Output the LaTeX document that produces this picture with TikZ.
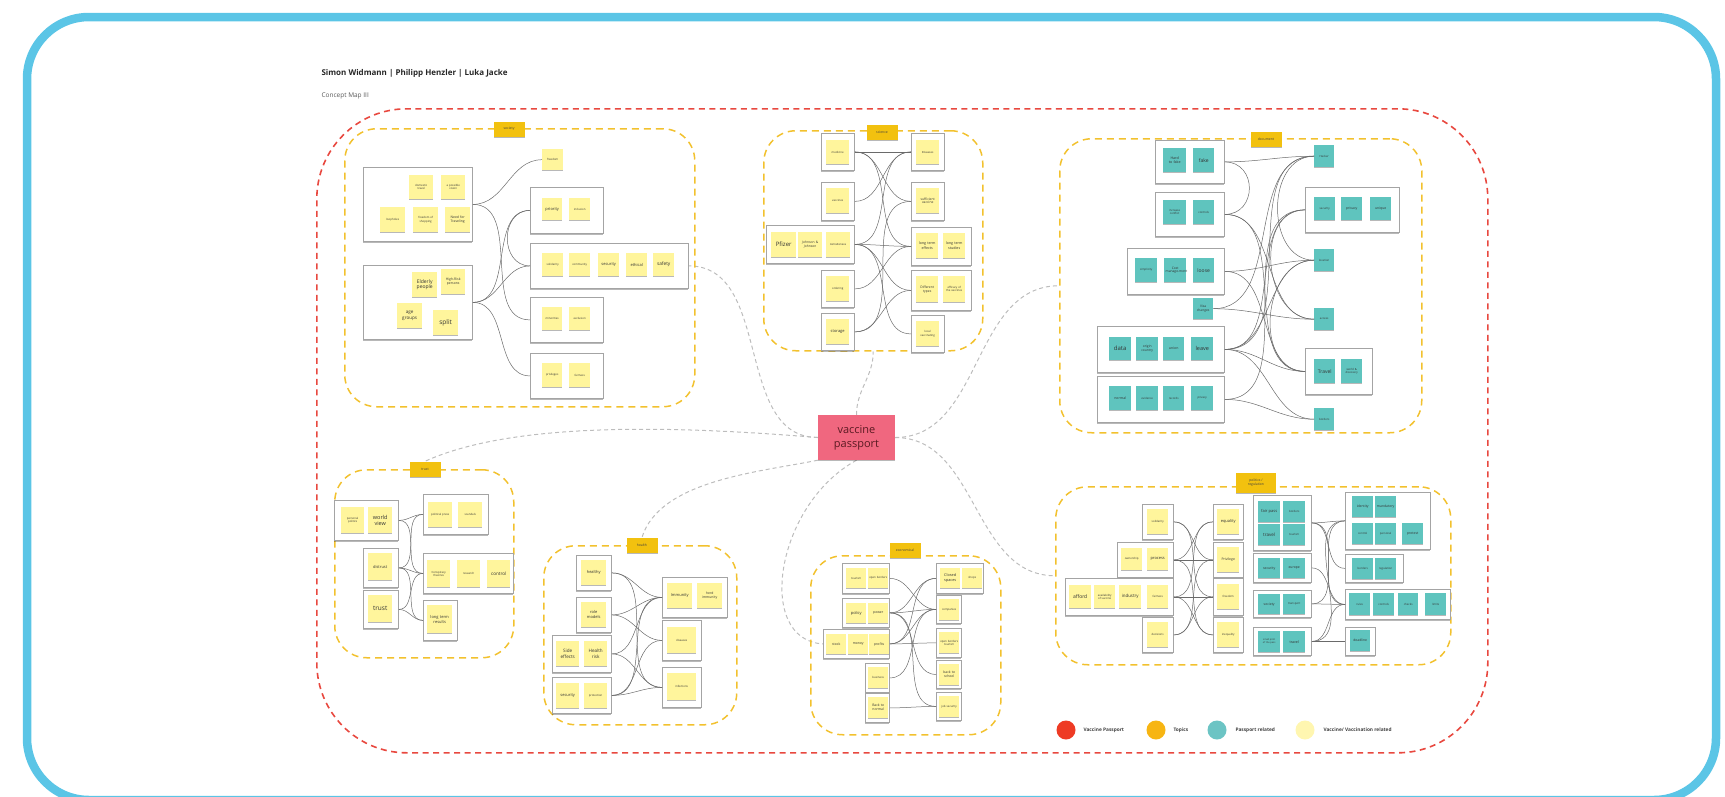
\documentclass[tikz,border=0pt]{standalone}
\usepackage{fontspec}
\setmainfont{Open Sans}
\usetikzlibrary{shadows}
\pgfdeclarelayer{bg}
\pgfsetlayers{bg,main}
\definecolor{frame}{HTML}{5BC5E6}
\definecolor{redline}{HTML}{E8483F}
\definecolor{topicY}{HTML}{F2C12E}
\definecolor{labelY}{HTML}{F2C10F}
\definecolor{noteY}{HTML}{FFF59C}
\definecolor{noteT}{HTML}{5FC4BE}
\definecolor{boxgray}{HTML}{A4A4A4}
\definecolor{linegray}{HTML}{6A6A6A}
\definecolor{hubgray}{HTML}{BDBDBD}
\definecolor{vppink}{HTML}{F0677F}
\definecolor{vptext}{HTML}{5B1A22}
\definecolor{lgred}{HTML}{EE3B24}
\definecolor{lgorange}{HTML}{F7B512}
\definecolor{lgteal}{HTML}{6CC4C4}
\definecolor{lgcream}{HTML}{FFF6B0}
\tikzset{
  shd/.style={drop shadow={shadow xshift=0pt,shadow yshift=-1.2pt,opacity=0.28,fill=black}},
  yn/.style={fill=noteY,draw=none,inner sep=0.5pt,align=center,text width=19pt,
    font=\fontsize{2.8}{3.4}\selectfont,text=black!80,shd},
  tn/.style={yn,fill=noteT},
  big/.style={font=\fontsize{5}{5.8}\selectfont},
  mid/.style={font=\fontsize{4}{4.6}\selectfont},
  bx/.style={draw=boxgray,line width=0.8pt,fill=white,inner sep=0pt,shd},
  tp/.style={draw=topicY,line width=1.5pt,dash pattern=on 7pt off 5pt,rounded corners=32pt,inner sep=0pt},
  tl/.style={fill=labelY,inner sep=0.5pt,align=center,font=\fontsize{3.4}{3.9}\selectfont,text=black!75,
    minimum width=31pt,minimum height=15pt,shd},
  cn/.style={draw=linegray,line width=0.5pt},
  hub/.style={draw=hubgray,line width=1pt,dash pattern=on 4pt off 3pt},
  lgt/.style={anchor=west,font=\fontsize{4.8}{5.5}\bfseries\selectfont,text=black!75},
}
\newcommand\bx[5]{\node[bx,anchor=north west,minimum width={#4-#2},minimum height={#5-#3}] (#1) at (#2,#3) {};}
\newcommand\nt[7]{\node[#2,anchor=north west,minimum width={#5-#3},minimum height={#6-#4}] (#1) at (#3,#4) {#7};}
\newcommand\tp[5]{\node[tp,anchor=north west,minimum width={#4-#2},minimum height={#5-#3}] (#1) at (#2,#3) {};}
\newcommand\cc[2]{\draw[cn] (#1.east) to[out=0,in=180] (#2.west);}
\begin{document}
\hyphenpenalty=10000
\exhyphenpenalty=10000
\begin{tikzpicture}[x=1pt,y=-1pt]
\useasboundingbox (0,0) rectangle (1725,796);
% blue frame
\draw[frame,line width=8.5pt,rounded corners=62pt] (27,17) rectangle (1716,800);
% header
\node[anchor=west,font=\fontsize{8}{9.6}\bfseries\selectfont,text=black!85] (hdr) at (318,73) {Simon Widmann | Philipp Henzler | Luka Jacke};
\node[anchor=west,font=\fontsize{6.5}{8}\selectfont,text=black!65] (sub) at (318,96) {Concept Map III};
% outer red frame
\node[draw=redline,line width=1.6pt,dash pattern=on 6pt off 4.5pt,rounded corners=90pt,anchor=north west,
  minimum width=1171,minimum height=644,inner sep=0pt] (outer) at (316,108) {};
% topic containers
\tp{Csoc}{344}{128}{694}{406}
\tp{Csci}{763}{130}{982}{350}
\tp{Cdoc}{1059}{138}{1421}{432}
\tp{Ctru}{334}{469}{513}{657}
\tp{Chea}{543}{545}{736}{724}
\tp{Ceco}{810}{555}{1000}{734}
\tp{Cpol}{1055}{486}{1450}{664}
% topic labels
\node[tl] (Lsoc) at (509,129) {society};
\node[tl] (Lsci) at (882,132) {science};
\node[tl] (Ldoc) at (1266,139) {document};
\node[tl] (Ltru) at (425,469) {trust};
\node[tl] (Lhea) at (642,545) {health};
\node[tl] (Leco) at (905,550) {economical};
\node[tl,minimum width=40pt,minimum height=20pt] (Lpol) at (1256,483) {politics /\\regulation};
% ---------------- society
\bx{sA}{363}{167}{472}{241}
\nt{s1}{yn}{409}{175}{433}{199}{domestic travel}
\nt{s2}{yn}{441}{175}{465}{199}{a possible vision}
\nt{s3}{yn}{380}{207}{405}{232}{loopholes}
\nt{s4}{yn}{413}{207}{438}{232}{freedom of shopping}
\nt{s5}{yn,font=\fontsize{3.4}{4}\selectfont}{445}{207}{470}{232}{Need for Traveling}
\bx{sB}{363}{265}{472}{339}
\nt{s6}{yn,big}{412}{272}{437}{297}{Elderly people}
\nt{s7}{yn,font=\fontsize{3.4}{4}\selectfont}{441}{269}{465}{294}{High-Risk persons}
\nt{s8}{yn,font=\fontsize{4.6}{5.2}\selectfont}{397}{303}{422}{328}{age groups}
\nt{s9}{yn,font=\fontsize{6.5}{7}\selectfont}{433}{310}{458}{335}{split}
\nt{fr}{yn}{542}{149}{563}{170}{freedom}
\bx{sC}{530}{187}{603}{233}
\nt{s10}{yn,mid}{542}{198}{562}{220}{priority}
\nt{s11}{yn}{569}{198}{590}{220}{inclusion}
\bx{sD}{530}{243}{688}{288}
\nt{s12}{yn}{542}{253}{563}{276}{solidarity}
\nt{s13}{yn}{569}{253}{590}{276}{community}
\nt{s14}{yn,mid}{598}{253}{619}{276}{security}
\nt{s15}{yn,mid}{626}{253}{647}{276}{ethical}
\nt{s16}{yn,font=\fontsize{4.8}{5.4}\selectfont}{653}{253}{674}{276}{safety}
\bx{sE}{530}{297}{603}{342}
\nt{s17}{yn}{542}{307}{562}{330}{minorities}
\nt{s18}{yn}{569}{307}{590}{330}{exclusion}
\bx{sF}{530}{353}{603}{398}
\nt{s19}{yn}{542}{363}{562}{387}{privileges}
\nt{s20}{yn}{569}{363}{590}{387}{fairness}
\cc{sA}{fr}
\cc{sA}{sE}
\cc{sB}{sC}
\cc{sB}{sD}
\cc{sB}{sF}
\draw[cn] (sC.west) to[out=180,in=180,looseness=1.4] (sD.west);
% ---------------- science
\bx{L1}{821}{133}{854}{170}
\nt{c1}{yn}{826}{140}{849}{164}{medicine}
\bx{L2}{821}{182}{854}{220}
\nt{c2}{yn}{826}{188}{849}{213}{vaccines}
\bx{L3}{766}{225}{854}{263}
\nt{c3}{yn,font=\fontsize{6}{6.5}\selectfont}{771}{232}{796}{257}{Pfizer}
\nt{c4}{yn,font=\fontsize{3.3}{3.9}\selectfont}{798}{232}{822}{257}{Johnson \& Johnson}
\nt{c5}{yn}{826}{232}{850}{257}{AstraZeneca}
\bx{L4}{821}{270}{854}{307}
\nt{c6}{yn}{826}{276}{849}{301}{ordering}
\bx{L5}{821}{313}{854}{350}
\nt{c7}{yn,mid}{826}{319}{849}{344}{storage}
\bx{R1}{911}{133}{944}{170}
\nt{c8}{yn}{916}{140}{939}{164}{Diseases}
\bx{R2}{911}{182}{944}{220}
\nt{c9}{yn,font=\fontsize{3.3}{3.9}\selectfont}{916}{188}{939}{213}{sufficient vaccine}
\bx{R3}{911}{227}{971}{265}
\nt{c10}{yn,font=\fontsize{3.6}{4.2}\selectfont}{916}{233}{938}{258}{long term effects}
\nt{c11}{yn,font=\fontsize{3.6}{4.2}\selectfont}{943}{233}{965}{258}{long term studies}
\bx{R4}{911}{270}{971}{310}
\nt{c12}{yn,font=\fontsize{3.3}{3.9}\selectfont}{916}{276}{938}{302}{Different types}
\nt{c13}{yn}{943}{276}{965}{302}{efficacy of the vaccines}
\bx{R5}{911}{315}{944}{352}
\nt{c14}{yn}{916}{321}{939}{346}{local vaccinating}
\cc{L1}{R1}
\cc{L1}{R2}
\cc{L1}{R3}
\cc{L2}{R1}
\cc{L3}{R1}
\cc{L3}{R3}
\cc{L3}{R4}
\cc{L3}{R5}
\cc{L4}{R3}
\cc{L5}{R2}
\cc{L5}{R4}
% ---------------- document
\bx{dD1}{1155}{140}{1224}{183}
\nt{d1}{tn,font=\fontsize{3.6}{4.2}\selectfont}{1163}{148}{1186}{172}{Hard to fake}
\nt{d2}{tn,font=\fontsize{5}{5.6}\selectfont}{1193}{148}{1214}{172}{fake}
\bx{dD2}{1155}{192}{1224}{236}
\nt{d3}{tn}{1163}{200}{1186}{224}{increase conflict}
\nt{d4}{tn}{1193}{200}{1214}{224}{controls}
\bx{dD3}{1127}{248}{1224}{294}
\nt{d5}{tn}{1135}{258}{1157}{282}{simplicity}
\nt{d6}{tn,font=\fontsize{3.3}{3.9}\selectfont}{1164}{258}{1186}{282}{Cost manage-ment}
\nt{d7}{tn,font=\fontsize{5}{5.6}\selectfont}{1193}{258}{1214}{282}{loose}
\nt{visa}{tn,font=\fontsize{3.3}{3.9}\selectfont}{1193}{298}{1213}{319}{Visa changes}
\bx{dD4}{1097}{326}{1224}{372}
\nt{d8}{tn,font=\fontsize{6}{6.5}\selectfont}{1109}{337}{1131}{360}{data}
\nt{d9}{tn,font=\fontsize{3.3}{3.9}\selectfont}{1136}{337}{1158}{360}{origin country}
\nt{d10}{tn,font=\fontsize{3.5}{4}\selectfont}{1163}{337}{1184}{360}{union}
\nt{d11}{tn,font=\fontsize{5.5}{6}\selectfont}{1191}{337}{1213}{360}{leave}
\bx{dD5}{1097}{376}{1224}{422}
\nt{d12}{tn,font=\fontsize{3.5}{4}\selectfont}{1109}{386}{1131}{410}{normal}
\nt{d13}{tn}{1136}{386}{1158}{410}{evidence}
\nt{d14}{tn}{1163}{386}{1184}{410}{records}
\nt{d15}{tn}{1191}{386}{1213}{410}{privacy}
\nt{dR1}{tn}{1314}{145}{1334}{167}{Hacker}
\bx{dR2}{1305}{187}{1399}{232}
\nt{d16}{tn}{1314}{197}{1335}{220}{security}
\nt{d17}{tn,font=\fontsize{3.4}{4}\selectfont}{1341}{197}{1362}{220}{privacy}
\nt{d18}{tn,font=\fontsize{3.4}{4}\selectfont}{1370}{197}{1391}{220}{unique}
\nt{dR3}{tn}{1314}{249}{1334}{271}{location}
\nt{dR4}{tn}{1314}{308}{1334}{330}{access}
\bx{dR5}{1305}{348}{1372}{394}
\nt{d19}{tn,font=\fontsize{5}{5.6}\selectfont}{1314}{359}{1335}{383}{Travel}
\nt{d20}{tn}{1341}{359}{1362}{383}{world \& discovery}
\nt{dR6}{tn}{1314}{408}{1334}{430}{borders}
\cc{dD1}{dR1}
\draw[cn] (dD1.east) to[out=0,in=0,looseness=1.6] (dD2.east);
\cc{dD2}{dR4}
\cc{dD2}{dR5}
\cc{dD3}{dR3}
\cc{dD3}{dR5}
\cc{visa}{dR1}
\cc{visa}{dR4}
\cc{dD4}{dR1}
\cc{dD4}{dR2}
\cc{dD4}{dR3}
\cc{dD4}{dR5}
\cc{dD4}{dR6}
\cc{dD5}{dR2}
\cc{dD5}{dR6}
\draw[cn] (dR1.west) to[out=180,in=180,looseness=1.2] (dR3.west);
\draw[cn] (dR2.west) to[out=180,in=180,looseness=1.2] (dR4.west);
\draw[cn] (dR3.west) to[out=180,in=180,looseness=1.2] (dR5.west);
% ---------------- trust
\bx{tT1}{334}{500}{398}{540}
\nt{t1}{yn}{341}{507}{364}{533}{personal politics}
\nt{t2}{yn,font=\fontsize{5.5}{6.2}\selectfont}{368}{507}{392}{533}{world view}
\bx{tT2}{363}{548}{398}{587}
\nt{t3}{yn,mid}{368}{553}{392}{580}{distrust}
\bx{tT3}{363}{590}{398}{628}
\nt{t4}{yn,font=\fontsize{6.5}{7}\selectfont}{368}{595}{392}{622}{trust}
\bx{tT4}{423}{494}{488}{534}
\nt{t5}{yn}{428}{502}{452}{527}{political press}
\nt{t6}{yn}{458}{502}{482}{527}{scandals}
\bx{tT5}{423}{553}{513}{593}
\nt{t7}{yn}{427}{560}{450}{587}{Conspiracy theories}
\nt{t8}{yn}{457}{560}{480}{587}{research}
\nt{t9}{yn,font=\fontsize{4.6}{5.2}\selectfont}{487}{560}{510}{587}{control}
\bx{tT6}{423}{600}{457}{640}
\nt{t10}{yn,font=\fontsize{4}{4.6}\selectfont}{427}{605}{452}{633}{long term results}
\cc{tT1}{tT4}
\cc{tT1}{tT5}
\cc{tT2}{tT4}
\cc{tT2}{tT5}
\cc{tT2}{tT6}
\cc{tT3}{tT5}
\cc{tT3}{tT6}
% ---------------- health
\bx{hH1}{576}{555}{611}{590}
\nt{h1}{yn,mid}{581}{560}{606}{585}{healthy}
\bx{hH2}{576}{597}{611}{632}
\nt{h2}{yn,mid}{581}{602}{606}{627}{role models}
\bx{hH3}{552}{635}{611}{672}
\nt{h3}{yn,font=\fontsize{4.6}{5.2}\selectfont}{556}{641}{579}{666}{Side effects}
\nt{h4}{yn,font=\fontsize{4.6}{5.2}\selectfont}{584}{641}{607}{666}{Health risk}
\bx{hH4}{552}{677}{611}{713}
\nt{h5}{yn,mid}{556}{683}{579}{708}{security}
\nt{h6}{yn}{584}{683}{607}{708}{protection}
\bx{hH5}{662}{577}{727}{617}
\nt{h7}{yn,mid}{667}{583}{692}{608}{Immunity}
\nt{h8}{yn,font=\fontsize{3.4}{4}\selectfont}{697}{583}{722}{608}{herd immunity}
\bx{hH6}{662}{620}{701}{660}
\nt{h9}{yn}{667}{627}{696}{653}{diseases}
\bx{hH7}{662}{667}{701}{707}
\nt{h10}{yn}{667}{673}{696}{700}{infections}
\cc{hH1}{hH5}
\cc{hH1}{hH7}
\cc{hH2}{hH5}
\cc{hH2}{hH6}
\cc{hH3}{hH5}
\cc{hH3}{hH7}
\cc{hH4}{hH5}
\cc{hH4}{hH6}
\cc{hH4}{hH7}
% ---------------- economical
\bx{eE1}{842}{563}{889}{593}
\nt{e1}{yn}{846}{568}{865}{588}{tourism}
\nt{e2}{yn}{868}{568}{886}{588}{open borders}
\bx{eE2}{842}{598}{889}{627}
\nt{e3}{yn,mid}{846}{603}{865}{623}{policy}
\nt{e4}{yn,font=\fontsize{3.4}{4}\selectfont}{868}{603}{886}{623}{power}
\bx{eE3}{823}{629}{889}{658}
\nt{e5}{yn,font=\fontsize{3.4}{4}\selectfont}{826}{634}{845}{654}{stock}
\nt{e6}{yn,font=\fontsize{3.4}{4}\selectfont}{848}{634}{866}{654}{money}
\nt{e7}{yn,font=\fontsize{3.4}{4}\selectfont}{869}{634}{886}{654}{profits}
\bx{eE4}{865}{663}{889}{692}
\nt{e8}{yn}{868}{667}{886}{688}{business}
\bx{eE5}{865}{693}{889}{722}
\nt{e9}{yn,font=\fontsize{3.4}{4}\selectfont}{868}{697}{886}{718}{Back to normal}
\bx{eR1}{936}{563}{983}{593}
\nt{e10}{yn,font=\fontsize{3.8}{4.4}\selectfont}{940}{568}{959}{588}{Closed spaces}
\nt{e11}{yn}{962}{568}{980}{588}{shops}
\bx{eR2}{936}{595}{961}{623}
\nt{e12}{yn}{939}{599}{958}{620}{companies}
\bx{eR3}{936}{628}{961}{657}
\nt{e13}{yn}{939}{632}{958}{653}{open borders tourism}
\bx{eR4}{936}{660}{961}{688}
\nt{e14}{yn,font=\fontsize{3.4}{4}\selectfont}{939}{664}{958}{685}{back to school}
\bx{eR5}{936}{692}{961}{720}
\nt{e15}{yn}{939}{696}{958}{717}{job security}
\cc{eE1}{eR2}
\cc{eE2}{eR1}
\cc{eE2}{eR2}
\cc{eE2}{eR4}
\cc{eE2}{eR5}
\cc{eE3}{eR1}
\cc{eE3}{eR2}
\cc{eE3}{eR3}
\cc{eE4}{eR2}
\cc{eE5}{eR5}
% ---------------- politics / regulation
\bx{pP1}{1142}{504}{1173}{539}
\nt{p1}{yn}{1147}{509}{1168}{534}{solidarity}
\bx{pP2}{1117}{542}{1173}{577}
\nt{p2}{yn}{1121}{548}{1142}{570}{ownership}
\nt{p3}{yn,mid}{1147}{548}{1168}{570}{process}
\bx{pP3}{1065}{578}{1173}{615}
\nt{p4}{yn,font=\fontsize{5}{5.6}\selectfont}{1069}{585}{1091}{608}{afford}
\nt{p5}{yn}{1094}{585}{1115}{608}{availability of vaccine}
\nt{p6}{yn,font=\fontsize{4.4}{5}\selectfont}{1119}{585}{1141}{608}{industry}
\nt{p7}{yn}{1147}{585}{1168}{608}{fairness}
\bx{pP4}{1142}{617}{1173}{652}
\nt{p8}{yn}{1147}{622}{1168}{647}{decisions}
\bx{pM1}{1213}{504}{1243}{539}
\nt{p9}{yn,mid}{1217}{509}{1239}{534}{equality}
\bx{pM2}{1213}{542}{1243}{577}
\nt{p10}{yn,font=\fontsize{3.4}{4}\selectfont}{1217}{547}{1239}{572}{Privilege}
\bx{pM3}{1213}{578}{1243}{615}
\nt{p11}{yn}{1217}{584}{1239}{609}{freedom}
\bx{pM4}{1213}{617}{1243}{652}
\nt{p12}{yn}{1217}{622}{1239}{647}{inequality}
\bx{pB1}{1253}{495}{1311}{550}
\nt{q1}{tn,mid}{1258}{501}{1280}{522}{fair pass}
\nt{q2}{tn}{1283}{501}{1305}{522}{borders}
\nt{q3}{tn,font=\fontsize{4.6}{5.2}\selectfont}{1258}{524}{1280}{545}{travel}
\nt{q4}{tn}{1283}{524}{1305}{545}{tourism}
\bx{pB2}{1253}{553}{1311}{582}
\nt{q5}{tn,font=\fontsize{3.4}{4}\selectfont}{1258}{558}{1280}{578}{security}
\nt{q6}{tn,font=\fontsize{3.4}{4}\selectfont}{1283}{558}{1305}{578}{europe}
\bx{pB3}{1253}{590}{1311}{617}
\nt{q7}{tn,font=\fontsize{3.4}{4}\selectfont}{1258}{594}{1280}{614}{society}
\nt{q8}{tn}{1283}{594}{1305}{614}{transport}
\bx{pB4}{1253}{627}{1311}{655}
\nt{q9}{tn,font=\fontsize{2.4}{2.9}\selectfont}{1258}{631}{1280}{652}{small print of the pass}
\nt{q10}{tn,font=\fontsize{3.6}{4.2}\selectfont}{1283}{631}{1305}{652}{travel}
\bx{pC1}{1345}{492}{1430}{549}
\nt{q11}{tn,font=\fontsize{3.4}{4}\selectfont}{1352}{496}{1373}{517}{identity}
\nt{q12}{tn,font=\fontsize{3.4}{4}\selectfont}{1375}{496}{1396}{517}{mandatory}
\nt{q13}{tn}{1352}{523}{1373}{544}{control}
\nt{q14}{tn}{1375}{523}{1396}{544}{personal}
\nt{q15}{tn,font=\fontsize{3.4}{4}\selectfont}{1402}{523}{1423}{544}{protest}
\bx{pC2}{1345}{554}{1403}{582}
\nt{q16}{tn}{1352}{558}{1373}{579}{borders}
\nt{q17}{tn}{1375}{558}{1396}{579}{regulation}
\bx{pC3}{1345}{589}{1450}{619}
\nt{q18}{tn}{1349}{593}{1370}{615}{rules}
\nt{q19}{tn}{1373}{593}{1394}{615}{controls}
\nt{q20}{tn}{1398}{593}{1418}{615}{checks}
\nt{q21}{tn}{1425}{593}{1446}{615}{limits}
\bx{pC4}{1345}{627}{1375}{655}
\nt{q22}{tn,font=\fontsize{3.4}{4}\selectfont}{1350}{630}{1369}{651}{deadline}
\cc{pP1}{pM2}
\cc{pP1}{pM3}
\cc{pP2}{pM1}
\cc{pP2}{pM2}
\cc{pP2}{pM4}
\cc{pP3}{pM1}
\cc{pP3}{pM3}
\cc{pP3}{pM4}
\cc{pP4}{pM2}
\cc{pP4}{pM3}
\cc{pB1}{pC1}
\cc{pB1}{pC2}
\cc{pB1}{pC3}
\cc{pB2}{pC3}
\cc{pB3}{pC1}
\cc{pB3}{pC3}
\cc{pB4}{pC1}
\cc{pB4}{pC3}
\cc{pB4}{pC4}
% ---------------- centre
\node[fill=vppink,text=vptext,align=center,font=\fontsize{11}{14}\selectfont,minimum width=77,minimum height=45,inner sep=1pt,shd] (VP) at (856.5,437.5) {vaccine\\passport};
\begin{pgfonlayer}{bg}
\draw[hub] (VP.west) to[out=180,in=0] (sD.east);
\draw[hub] (VP.north) to[out=90,in=-90] (Csci.south);
\draw[hub] (VP.east) to[out=0,in=180] (Cdoc.west);
\draw[hub] (VP.east) to[out=0,in=180] (Cpol.west);
\draw[hub] (VP.west) .. controls (700,428) and (520,418) .. (Ltru.north);
\draw[hub] (VP.south west) .. controls (760,472) and (660,480) .. (Lhea.north);
\draw[hub] (VP.south) .. controls (775,505) and (755,640) .. (eE3.west);
\end{pgfonlayer}
% ---------------- legend
\node[circle,fill=lgred,minimum size=19,inner sep=0pt] (g1) at (1066,730) {};
\node[lgt] (g1t) at (1080,730) {Vaccine Passport};
\node[circle,fill=lgorange,minimum size=19,inner sep=0pt] (g2) at (1156,730) {};
\node[lgt] (g2t) at (1170,730) {Topics};
\node[circle,fill=lgteal,minimum size=19,inner sep=0pt] (g3) at (1217,730) {};
\node[lgt] (g3t) at (1232,730) {Passport related};
\node[circle,fill=lgcream,minimum size=19,inner sep=0pt] (g4) at (1305,730) {};
\node[lgt] (g4t) at (1320,730) {Vaccine/ Vaccination related};
\end{tikzpicture}
\end{document}
